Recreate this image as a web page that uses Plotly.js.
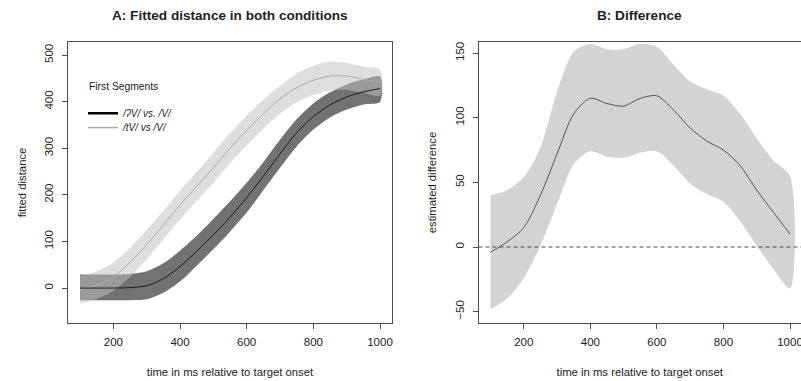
<!DOCTYPE html>
<html><head><meta charset="utf-8">
<script src="https://cdn.plot.ly/plotly-3.0.1.min.js"></script>
<style>html,body{margin:0;padding:0;background:#fff}#chart{width:801px;height:381px}</style>
</head><body><div id="chart"></div>
<script>
// time grid (ms relative to target onset)
const timeMs = [100,150,200,250,300,350,400,450,500,550,600,650,700,750,800,850,900,950,1000];

// Panel A: /ʔV/ vs. /V/ (black)
const glotFit   = [0,0,0,1,5,20,46,79,114,152,194,240,288,333,368,393,410,421,428];
const glotUpper = [29,29,29,30,36,53,80,112,148,186,226,270,318,362,396,420,437,448,454];
const glotLower = [-26,-26,-26,-26,-24,-10,14,48,83,121,162,210,258,304,340,366,383,394,400];

// Panel A: /tV/ vs /V/ (grey)
const tFit   = [-3,6,24,55,93,135,178,218,258,300,338,374,406,430,446,455,455,448,442];
const tUpper = [27,36,55,86,125,166,209,249,290,332,370,404,434,460,477,486,483,475,469];
const tLower = [-33,-24,-6,24,62,104,147,187,226,268,306,342,374,398,414,424,425,419,413];

// Panel B: estimated difference
const diffFit   = [-4,4,15,40,72,103,115,111,109,115,117,106,92,82,75,63,44,27,10];
const diffUpper = [40,44,54,77,120,151,157,153,153,157,155,141,128,122,117,103,84,67,55];
const diffLower = [-48,-40,-24,1,33,64,74,70,69,73,74,63,49,41,35,20,1,-17,-32];

const xTicks = [200,400,600,800,1000];
const yTicksA = [0,100,200,300,400,500];
const yTicksB = [-50,0,50,100,150];
const legendTitle = 'First Segments';
const legendNames = ['<i>/ʔV/ vs. /V/</i>', '<i>/tV/ vs /V/</i>'];

const FONT = 'Liberation Sans, Arial, sans-serif';
const TXT = '#222';

function polygon(x, up, lo) {
  return { x: x.concat(x.slice().reverse()), y: up.concat(lo.slice().reverse()) };
}
const bandGlot = polygon(timeMs, glotUpper, glotLower);
const bandT = polygon(timeMs, tUpper, tLower);
const bandDiff = polygon(timeMs, diffUpper, diffLower);

const traces = [
  { x: bandGlot.x, y: bandGlot.y, type: 'scatter', mode: 'lines', fill: 'toself',
    fillcolor: '#727272', line: { width: 0, shape: 'spline', smoothing: 0.8 }, hoverinfo: 'skip', showlegend: false, xaxis: 'x', yaxis: 'y' },
  { x: bandT.x, y: bandT.y, type: 'scatter', mode: 'lines', fill: 'toself',
    fillcolor: 'rgba(192,192,192,0.52)', line: { width: 0, shape: 'spline', smoothing: 0.8 }, hoverinfo: 'skip', showlegend: false, xaxis: 'x', yaxis: 'y' },
  { x: timeMs, y: tFit, type: 'scatter', mode: 'lines', line: { color: '#adadad', width: 1, shape: 'spline', smoothing: 0.8 },
    showlegend: false, xaxis: 'x', yaxis: 'y' },
  { x: timeMs, y: glotFit, type: 'scatter', mode: 'lines', line: { color: '#1a1a1a', width: 1, shape: 'spline', smoothing: 0.8 },
    showlegend: false, xaxis: 'x', yaxis: 'y' },
  // legend entries
  { x: [null], y: [null], type: 'scatter', mode: 'lines', name: legendNames[0],
    line: { color: '#000', width: 2.5 }, xaxis: 'x', yaxis: 'y', legend: 'legend' },
  { x: [null], y: [null], type: 'scatter', mode: 'lines', name: legendNames[1],
    line: { color: '#aaaaaa', width: 1.5 }, xaxis: 'x', yaxis: 'y', legend: 'legend2' },
  // panel B
  { x: bandDiff.x, y: bandDiff.y, type: 'scatter', mode: 'lines', fill: 'toself',
    fillcolor: '#d3d3d3', line: { width: 0, shape: 'spline', smoothing: 0.8 }, hoverinfo: 'skip', showlegend: false, xaxis: 'x2', yaxis: 'y2' },
  { x: timeMs, y: diffFit, type: 'scatter', mode: 'lines', line: { color: '#555', width: 1, shape: 'spline', smoothing: 0.8 },
    showlegend: false, xaxis: 'x2', yaxis: 'y2' }
];

const axisCommon = {
  showline: true, mirror: true, linecolor: '#4d4d4d', linewidth: 1,
  ticks: 'outside', ticklen: 5, tickcolor: '#4d4d4d', tickwidth: 1,
  showgrid: false, zeroline: false, fixedrange: true,
  ticklabeloverflow: 'allow',
  tickfont: { family: FONT, size: 11.5, color: TXT }
};
const titleFont = { family: FONT, size: 11.3, color: TXT };
const legendFont = { family: FONT, size: 10, color: TXT };

const layout = {
  width: 801, height: 381,
  margin: { l: 68, r: 0, t: 42.3, b: 58.3 },
  paper_bgcolor: '#fff', plot_bgcolor: '#fff',
  font: { family: FONT, color: TXT },
  xaxis: Object.assign({}, axisCommon, {
    domain: [0, 0.44202], range: [64, 1036], tickvals: xTicks, anchor: 'y', ticklabelstandoff: 3,
    title: { text: 'time in ms relative to target onset', font: titleFont, standoff: 21 }
  }),
  yaxis: Object.assign({}, axisCommon, {
    domain: [0, 1], range: [-75, 528], tickvals: yTicksA, tickangle: -90, anchor: 'x', ticklabelstandoff: 4,
    title: { text: 'fitted distance', font: titleFont, standoff: 14 }
  }),
  xaxis2: Object.assign({}, axisCommon, {
    domain: [0.56003, 1], range: [64, 1033], tickvals: xTicks, anchor: 'y2', ticklabelstandoff: 3,
    title: { text: 'time in ms relative to target onset', font: titleFont, standoff: 21 }
  }),
  yaxis2: Object.assign({}, axisCommon, {
    domain: [0, 1], range: [-58.8, 158.6], tickvals: yTicksB, tickangle: -90, anchor: 'x2', ticklabelstandoff: 4,
    title: { text: 'estimated difference', font: titleFont, standoff: 14 }
  }),
  showlegend: true,
  legend: {
    x: 0.0205, y: 0.7468, xanchor: 'left', yanchor: 'middle',
    bgcolor: 'rgba(0,0,0,0)', borderwidth: 0, font: legendFont
  },
  legend2: {
    x: 0.0205, y: 0.6954, xanchor: 'left', yanchor: 'middle',
    bgcolor: 'rgba(0,0,0,0)', borderwidth: 0, font: legendFont
  },
  shapes: [
    { type: 'line', xref: 'x2 domain', yref: 'y2', x0: 0, x1: 1, y0: 0, y1: 0,
      line: { color: '#4d4d4d', width: 1, dash: '4px,3px' } }
  ],
  annotations: [
    { text: legendTitle, xref: 'paper', yref: 'paper', x: 0.0259, y: 0.8424,
      xanchor: 'left', yanchor: 'middle', showarrow: false, font: { family: FONT, size: 10.3, color: TXT } },
    { text: '<b>A: Fitted distance in both conditions</b>', xref: 'x domain', yref: 'paper',
      x: 0.5, y: 1.0945, xanchor: 'center', yanchor: 'middle', showarrow: false,
      font: { family: FONT, size: 13.6, color: TXT } },
    { text: '<b>B: Difference</b>', xref: 'x2 domain', yref: 'paper',
      x: 0.5, y: 1.0945, xanchor: 'center', yanchor: 'middle', showarrow: false,
      font: { family: FONT, size: 13.6, color: TXT } }
  ]
};

Plotly.newPlot('chart', traces, layout, { displayModeBar: false, staticPlot: true });
</script>
</body></html>
